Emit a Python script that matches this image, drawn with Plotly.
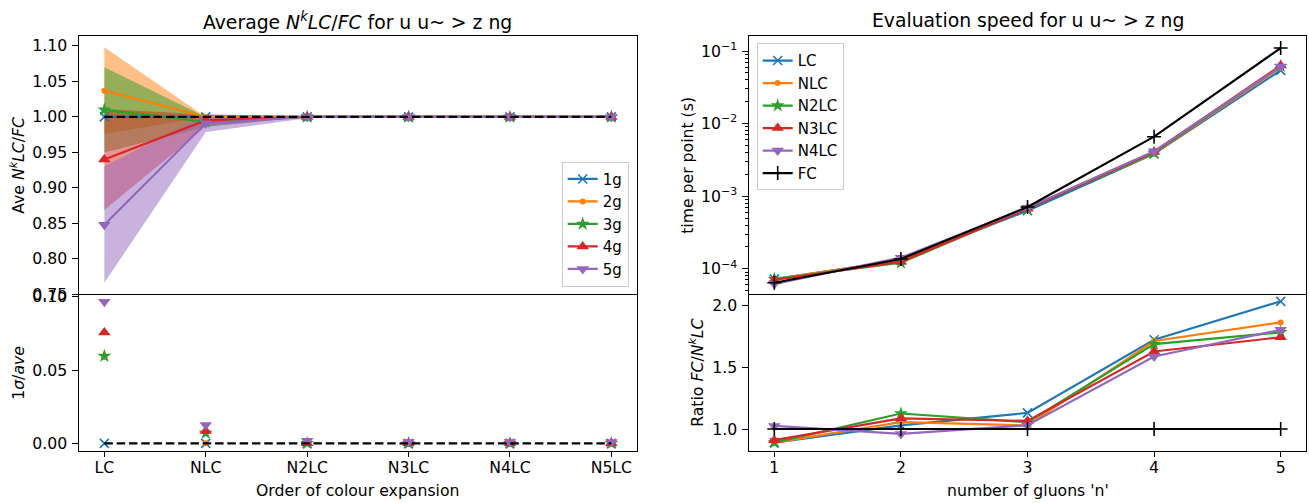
import plotly.graph_objects as go

# ---------------- data ----------------
orders = ["LC", "NLC", "N2LC", "N3LC", "N4LC", "N5LC"]
gluon_labels = ["1g", "2g", "3g", "4g", "5g"]

ave_1g = [1.000, 1.000, 1.000, 1.000, 1.000, 1.000]
ave_2g = [1.037, 1.000, 1.000, 1.000, 1.000, 1.000]
ave_3g = [1.010, 0.993, 1.000, 1.000, 1.000, 1.000]
ave_4g = [0.940, 0.995, 1.000, 1.000, 1.000, 1.000]
ave_5g = [0.848, 0.991, 1.000, 1.000, 1.000, 1.000]

rel_1g = [0.0, 0.0, 0.0, 0.0, 0.0, 0.0]
rel_2g = [0.059, 0.0, 0.0, 0.0, 0.0, 0.0]
rel_3g = [0.0595, 0.007, 0.0, 0.0, 0.0, 0.0]
rel_4g = [0.0757, 0.0085, 0.0, 0.0, 0.0, 0.0]
rel_5g = [0.0966, 0.0125, 0.0018, 0.001, 0.001, 0.001]

n_gluons = [1, 2, 3, 4, 5]
speed_labels = ["LC", "NLC", "N2LC", "N3LC", "N4LC", "FC"]
t_LC = [7.2e-5, 1.32e-4, 6.3e-4, 3.84e-3, 5.42e-2]
t_NLC = [7.2e-5, 1.30e-4, 6.9e-4, 3.86e-3, 5.91e-2]
t_N2LC = [7.2e-5, 1.21e-4, 6.7e-4, 3.92e-3, 6.18e-2]
t_N3LC = [7.0e-5, 1.25e-4, 6.7e-4, 4.06e-3, 6.32e-2]
t_N4LC = [6.2e-5, 1.42e-4, 6.9e-4, 4.16e-3, 6.11e-2]
t_FC = [6.4e-5, 1.36e-4, 7.1e-4, 6.6e-3, 1.10e-1]

r_LC = [0.89, 1.03, 1.13, 1.72, 2.03]
r_NLC = [0.89, 1.055, 1.03, 1.71, 1.86]
r_N2LC = [0.89, 1.125, 1.055, 1.685, 1.78]
r_N3LC = [0.91, 1.085, 1.065, 1.625, 1.74]
r_N4LC = [1.025, 0.96, 1.03, 1.585, 1.80]
r_FC = [1.0, 1.0, 1.0, 1.0, 1.0]

log_tick_vals = [1e-4, 1e-3, 1e-2, 1e-1]
log_tick_text = ["10<sup>−4</sup>", "10<sup>−3</sup>", "10<sup>−2</sup>", "10<sup>−1</sup>"]

# ---------------- styles ----------------
C = ["#1f77b4", "#ff7f0e", "#2ca02c", "#d62728", "#9467bd", "#000000"]
RGB = [(31, 119, 180), (255, 127, 14), (44, 160, 44), (214, 39, 40), (148, 103, 189)]
MK = ["x", ".", "*", "^", "v", "+"]
FONT = "DejaVu Sans"
FS = 15.7
LW = 2.2


def marker(style, color):
    if style == "x":
        return dict(symbol="x-thin-open", size=9, color=color, line=dict(width=1.6, color=color))
    if style == "+":
        return dict(symbol="cross-thin-open", size=10, color=color, line=dict(width=1.6, color=color))
    if style == ".":
        return dict(symbol="circle", size=6, color=color, line=dict(width=0))
    if style == "*":
        return dict(symbol="star", size=10.5, color=color, line=dict(width=0))
    if style == "^":
        return dict(symbol="triangle-up", size=11, color=color, line=dict(width=0))
    return dict(symbol="triangle-down", size=11, color=color, line=dict(width=0))


fig = go.Figure()
xi = list(range(len(orders)))
aves = [ave_1g, ave_2g, ave_3g, ave_4g, ave_5g]
rels = [rel_1g, rel_2g, rel_3g, rel_4g, rel_5g]

# bands (top-left)
for i, (a, r) in enumerate(zip(aves, rels)):
    up = [m + m * s for m, s in zip(a, r)]
    lo = [m - m * s for m, s in zip(a, r)]
    fig.add_trace(go.Scatter(
        x=xi + xi[::-1], y=up + lo[::-1], fill="toself",
        fillcolor="rgba(%d,%d,%d,0.5)" % RGB[i], line=dict(width=0),
        mode="lines", showlegend=False, hoverinfo="skip", xaxis="x", yaxis="y"))

# mean lines (top-left)
for i, a in enumerate(aves):
    fig.add_trace(go.Scatter(
        x=xi, y=a, mode="lines+markers", name=gluon_labels[i],
        line=dict(color=C[i], width=LW), marker=marker(MK[i], C[i]),
        legend="legend", xaxis="x", yaxis="y"))
fig.add_trace(go.Scatter(x=[xi[0], xi[-1]], y=[1, 1], mode="lines",
                         line=dict(color="black", width=LW, dash="8.5px,3.8px"),
                         showlegend=False, xaxis="x", yaxis="y"))

# relative sigma (bottom-left)
for i, r in enumerate(rels):
    fig.add_trace(go.Scatter(
        x=xi, y=r, mode="markers", marker=marker(MK[i], C[i]),
        showlegend=False, xaxis="x3", yaxis="y3"))
fig.add_trace(go.Scatter(x=[xi[0], xi[-1]], y=[0, 0], mode="lines",
                         line=dict(color="black", width=LW, dash="8.5px,3.8px"),
                         showlegend=False, xaxis="x3", yaxis="y3"))

# timing (top-right)
times = [t_LC, t_NLC, t_N2LC, t_N3LC, t_N4LC, t_FC]
ratios = [r_LC, r_NLC, r_N2LC, r_N3LC, r_N4LC, r_FC]
for i, t in enumerate(times):
    fig.add_trace(go.Scatter(
        x=n_gluons, y=t, mode="lines+markers", name=speed_labels[i],
        line=dict(color=C[i], width=LW), marker=marker(MK[i], C[i]),
        legend="legend2", xaxis="x2", yaxis="y2"))
for i, r in enumerate(ratios):
    fig.add_trace(go.Scatter(
        x=n_gluons, y=r, mode="lines+markers",
        line=dict(color=C[i], width=LW), marker=marker(MK[i], C[i]),
        showlegend=False, xaxis="x4", yaxis="y4"))

W, H = 1309, 503
LX = [79 / W, 636.7 / W]
RX = [749 / W, 1306 / W]
TOP = [1 - 295 / H, 1 - 35.7 / H]
BOT = [1 - 450.7 / H, 1 - 295 / H]

ax_common = dict(showline=True, linecolor="black", linewidth=1.3, mirror=True,
                 ticks="outside", ticklen=5.5, tickwidth=1.2, tickcolor="black",
                 showgrid=False, zeroline=False, ticklabelstandoff=2, automargin=False,
                 tickfont=dict(family=FONT, size=FS, color="black"))
xb = {**ax_common, "ticklabelstandoff": -3}
xt = {**ax_common, "ticks": "", "mirror": False, "side": "top", "showticklabels": False}
minor_vals = [k * 10.0 ** e for e in range(-5, 0) for k in range(2, 10)]

fig.update_layout(
    width=W, height=H, margin=dict(l=0, r=0, t=0, b=0, pad=0, autoexpand=False),
    plot_bgcolor="white", paper_bgcolor="white",
    font=dict(family=FONT, size=FS, color="black"),
    xaxis=dict(domain=LX, anchor="y", range=[-0.25, 5.25], **xt),
    yaxis=dict(domain=TOP, anchor="x", range=[0.7489, 1.1145], tick0=0.75, dtick=0.05,
               tickformat=".2f", **ax_common),
    xaxis3=dict(domain=LX, anchor="y3", range=[-0.25, 5.25], tickvals=xi, ticktext=orders,
                **xb),
    yaxis3=dict(domain=BOT, anchor="x3", range=[-0.005, 0.1012], tick0=0, dtick=0.05,
                tickformat=".2f", **ax_common),
    xaxis2=dict(domain=RX, anchor="y2", range=[0.8, 5.2], **xt),
    yaxis2=dict(domain=TOP, anchor="x2", type="log", range=[-4.362, -0.789],
                tickvals=log_tick_vals, ticktext=log_tick_text,
                minor=dict(tickvals=minor_vals, ticks="outside", ticklen=3.2, tickcolor="black",
                           tickwidth=0.9),
                **ax_common),
    xaxis4=dict(domain=RX, anchor="y4", range=[0.8, 5.2], tickvals=n_gluons, **xb),
    yaxis4=dict(domain=BOT, anchor="x4", range=[0.825, 2.081], tickvals=[1.0, 1.5, 2.0],
                tickformat=".1f", **ax_common),
    legend=dict(x=628.7 / W, y=1 - 286.7 / H, xanchor="right", yanchor="bottom",
                bgcolor="rgba(255,255,255,0.8)", bordercolor="#cccccc", borderwidth=1,
                font=dict(family=FONT, size=15)),
    legend2=dict(x=756.7 / W, y=1 - 43.3 / H, xanchor="left", yanchor="top",
                 bgcolor="rgba(255,255,255,0.8)", bordercolor="#cccccc", borderwidth=1,
                 font=dict(family=FONT, size=15)),
    showlegend=True,
)

ann = [
    dict(text="Average <i>N</i><sup><i>k</i></sup><i>LC</i>/<i>FC</i> for u u~ > z ng",
         x=(LX[0] + LX[1]) / 2, y=1 - 21 / H, font=dict(size=18.8)),
    dict(text="Evaluation speed for u u~ > z ng",
         x=(RX[0] + RX[1]) / 2, y=1 - 21 / H, font=dict(size=18.8)),
    dict(text="Ave <i>N</i><sup><i>k</i></sup><i>LC</i>/<i>FC</i>", x=17.5 / W,
         y=(TOP[0] + TOP[1]) / 2, textangle=-90),
    dict(text="1<i>σ</i>/<i>ave</i>", x=19 / W, y=(BOT[0] + BOT[1]) / 2, textangle=-90),
    dict(text="time per point (s)", x=687.5 / W, y=(TOP[0] + TOP[1]) / 2, textangle=-90),
    dict(text="Ratio <i>FC</i>/<i>N</i><sup><i>k</i></sup><i>LC</i>", x=697 / W,
         y=(BOT[0] + BOT[1]) / 2, textangle=-90),
    dict(text="Order of colour expansion", x=(LX[0] + LX[1]) / 2, y=1 - 490 / H),
    dict(text="number of gluons 'n'", x=(RX[0] + RX[1]) / 2, y=1 - 490 / H),
]
for a in ann:
    base = dict(xref="paper", yref="paper", showarrow=False, xanchor="center",
                yanchor="middle", font=dict(family=FONT, size=FS, color="black"))
    f = a.pop("font", None)
    base.update(a)
    if f:
        base["font"] = dict(family=FONT, color="black", **f)
    fig.add_annotation(**base)

fig.write_html("out.html")
